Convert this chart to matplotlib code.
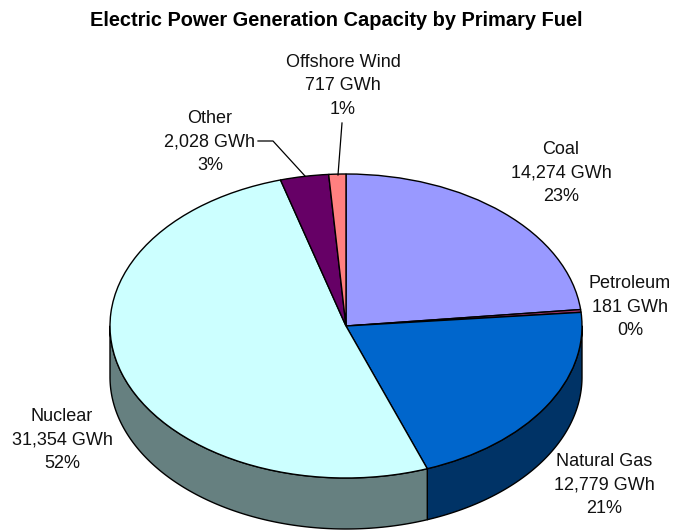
import numpy as np
import matplotlib
matplotlib.use("Agg")
import matplotlib.pyplot as plt

plt.rcParams['font.family'] = ['Liberation Sans', 'DejaVu Sans']

title = "Electric Power Generation Capacity by Primary Fuel"
fuels = ["Coal", "Petroleum", "Natural Gas", "Nuclear", "Other", "Offshore Wind"]
gwh = [14274, 181, 12779, 31354, 2028, 717]
pct_labels = ["23%", "0%", "21%", "52%", "3%", "1%"]
top_colors = ["#9999FF", "#993366", "#0066CC", "#CCFFFF", "#660066", "#FF8080"]
side_colors = ["#666699", "#662244", "#003366", "#668080", "#440044", "#AA5555"]

W, H = 673, 531
CX, CY, RX, RY, DEPTH = 346.0, 326.0, 236.0, 152.0, 51.0

label_pos = [(561, 173), (630, 307), (604, 485), (62, 440), (210, 142), (343, 86)]


def px(x, y):
    return (x - CX) / RX, (CY - y) / RY


fig = plt.figure(figsize=(W / 100, H / 100), dpi=100, facecolor="white")
ax = fig.add_axes([0, 0, 1, 1])

edge = "#000000"
lw = 1.0

# top face
wedges, _ = ax.pie(gwh, colors=top_colors, startangle=90, counterclock=False, radius=1.0,
                   wedgeprops=dict(edgecolor=edge, linewidth=lw), normalize=True)
for w in wedges:
    w.set_zorder(3)

# side wall, built from the same values
d = DEPTH / RY
fractions = np.array(gwh, dtype=float) / np.sum(gwh)
ends = 90 - 360 * np.cumsum(fractions)
starts = np.concatenate([[90.0], ends[:-1]])
for s, e, col in zip(starts, ends, side_colors):
    # visible front half: angle between -180 and 0
    hi, lo = min(s, 0.0), max(e, -180.0)
    if hi <= lo:
        continue
    t = np.radians(np.linspace(hi, lo, 200))
    xs = np.cos(t)
    ys = np.sin(t)
    ax.fill(np.concatenate([xs, xs[::-1]]), np.concatenate([ys, ys[::-1] - d]),
            facecolor=col, edgecolor=edge, linewidth=lw, zorder=2, joinstyle="round")

ax.set_aspect("auto")
ax.set_xlim(px(0, 0)[0], px(W, 0)[0])
ax.set_ylim(px(0, H)[1], px(0, 0)[1])
ax.axis("off")

for name, val, pct, (x, y) in zip(fuels, gwh, pct_labels, label_pos):
    ax.text(*px(x, y), f"{name}\n{val:,} GWh\n{pct}", ha="center", va="center",
            fontsize=13, linespacing=1.47, color="#111111", zorder=5)

# leader lines
for pts in ([(258, 141), (273, 141), (305, 176)], [(342, 123), (338, 175)]):
    xy = np.array([px(*p) for p in pts])
    ax.plot(xy[:, 0], xy[:, 1], color="black", lw=0.9, zorder=4)

ax.text(*px(336, 20), title, ha="center", va="center", fontsize=14.4, fontweight="bold")

fig.savefig("out.png", dpi=100, facecolor="white")
